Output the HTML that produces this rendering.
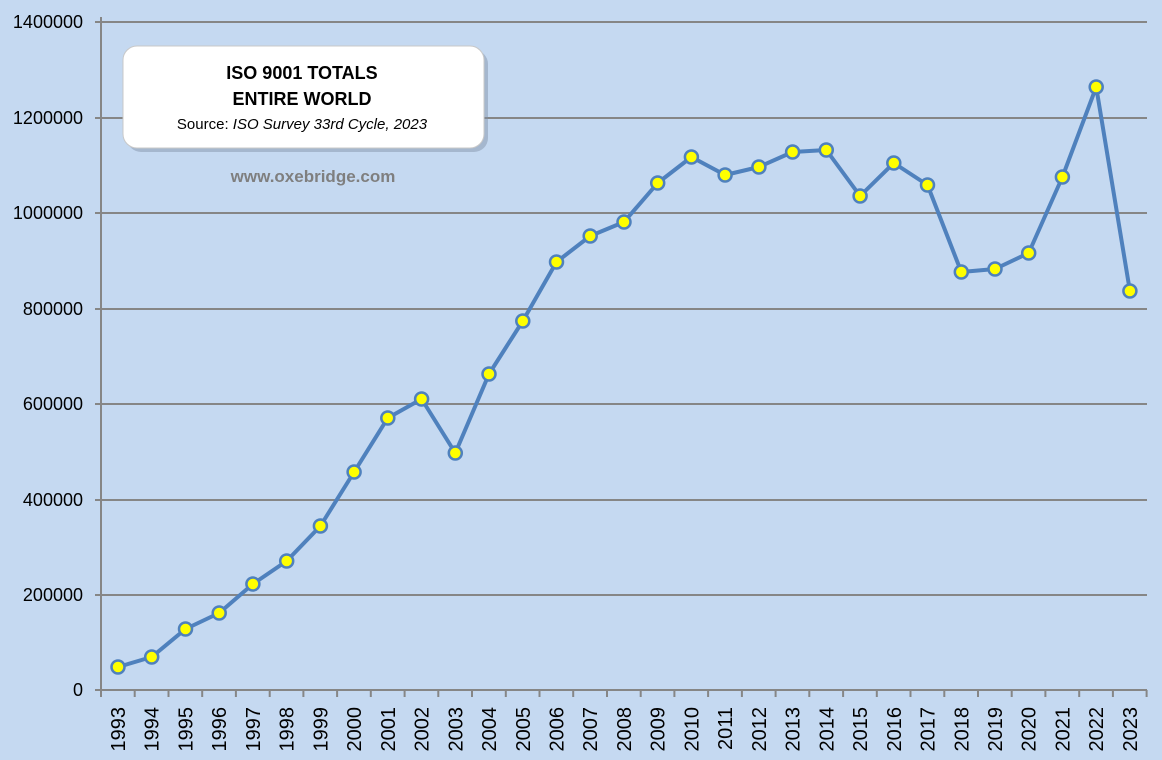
<!DOCTYPE html>
<html><head><meta charset="utf-8"><style>
html,body{margin:0;padding:0;background:#c5d9f1;}
svg{display:block;font-family:"Liberation Sans",Arial,sans-serif;}
</style></head><body>
<svg width="1162" height="760" viewBox="0 0 1162 760">
<rect width="1162" height="760" fill="#c5d9f1"/>
<g stroke="#868686" stroke-width="2">
<line x1="101" y1="22" x2="1147" y2="22"/>
<line x1="101" y1="118" x2="1147" y2="118"/>
<line x1="101" y1="213" x2="1147" y2="213"/>
<line x1="101" y1="309" x2="1147" y2="309"/>
<line x1="101" y1="404" x2="1147" y2="404"/>
<line x1="101" y1="500" x2="1147" y2="500"/>
<line x1="101" y1="595" x2="1147" y2="595"/>
<line x1="95" y1="690" x2="1147" y2="690"/>
<line x1="101" y1="17" x2="101" y2="697"/>
<line x1="95" y1="22" x2="101" y2="22"/><line x1="95" y1="118" x2="101" y2="118"/><line x1="95" y1="213" x2="101" y2="213"/><line x1="95" y1="309" x2="101" y2="309"/><line x1="95" y1="404" x2="101" y2="404"/><line x1="95" y1="500" x2="101" y2="500"/><line x1="95" y1="595" x2="101" y2="595"/>
</g>
<g stroke="#868686" stroke-width="2">
<path d="M134.7 690v7M168.5 690v7M202.2 690v7M235.9 690v7M269.7 690v7M303.4 690v7M337.1 690v7M370.8 690v7M404.6 690v7M438.3 690v7M472 690v7M505.8 690v7M539.5 690v7M573.2 690v7M607 690v7M640.7 690v7M674.4 690v7M708.1 690v7M741.9 690v7M775.6 690v7M809.3 690v7M843.1 690v7M876.8 690v7M910.5 690v7M944.3 690v7M978 690v7M1011.7 690v7M1045.4 690v7M1079.2 690v7M1112.9 690v7M1146.6 690v7"/>
</g>
<g font-size="18" fill="#000" text-anchor="end">
<text x="83" y="28">1400000</text>
<text x="83" y="124">1200000</text>
<text x="83" y="219">1000000</text>
<text x="83" y="315">800000</text>
<text x="83" y="410">600000</text>
<text x="83" y="506">400000</text>
<text x="83" y="601">200000</text>
<text x="83" y="696">0</text>
</g>
<g font-size="20" fill="#000" text-anchor="end">
<text transform="translate(125,707) rotate(-90)">1993</text>
<text transform="translate(158.7,707) rotate(-90)">1994</text>
<text transform="translate(192.5,707) rotate(-90)">1995</text>
<text transform="translate(226.2,707) rotate(-90)">1996</text>
<text transform="translate(259.9,707) rotate(-90)">1997</text>
<text transform="translate(293.7,707) rotate(-90)">1998</text>
<text transform="translate(327.4,707) rotate(-90)">1999</text>
<text transform="translate(361.1,707) rotate(-90)">2000</text>
<text transform="translate(394.8,707) rotate(-90)">2001</text>
<text transform="translate(428.6,707) rotate(-90)">2002</text>
<text transform="translate(462.3,707) rotate(-90)">2003</text>
<text transform="translate(496,707) rotate(-90)">2004</text>
<text transform="translate(529.8,707) rotate(-90)">2005</text>
<text transform="translate(563.5,707) rotate(-90)">2006</text>
<text transform="translate(597.2,707) rotate(-90)">2007</text>
<text transform="translate(631,707) rotate(-90)">2008</text>
<text transform="translate(664.7,707) rotate(-90)">2009</text>
<text transform="translate(698.4,707) rotate(-90)">2010</text>
<text transform="translate(732.1,707) rotate(-90)">2011</text>
<text transform="translate(765.9,707) rotate(-90)">2012</text>
<text transform="translate(799.6,707) rotate(-90)">2013</text>
<text transform="translate(833.3,707) rotate(-90)">2014</text>
<text transform="translate(867.1,707) rotate(-90)">2015</text>
<text transform="translate(900.8,707) rotate(-90)">2016</text>
<text transform="translate(934.5,707) rotate(-90)">2017</text>
<text transform="translate(968.3,707) rotate(-90)">2018</text>
<text transform="translate(1002,707) rotate(-90)">2019</text>
<text transform="translate(1035.7,707) rotate(-90)">2020</text>
<text transform="translate(1069.4,707) rotate(-90)">2021</text>
<text transform="translate(1103.2,707) rotate(-90)">2022</text>
<text transform="translate(1136.9,707) rotate(-90)">2023</text>
</g>
<polyline fill="none" stroke="#4f81bd" stroke-width="4" stroke-linejoin="round" points="118,667 151.7,657 185.5,629 219.2,613 252.9,584 286.7,561 320.4,526 354.1,472 387.8,418 421.6,399 455.3,453 489,374 522.8,321 556.5,262 590.2,236 624,222 657.7,183 691.4,157 725.1,175 758.9,167 792.6,152 826.3,150 860.1,196 893.8,163 927.5,185 961.3,272 995,269 1028.7,253 1062.4,177 1096.2,87 1129.9,291"/>
<g fill="#ffff00" stroke="#4f81bd" stroke-width="2.5">
<circle cx="118" cy="667" r="6.5"/><circle cx="151.7" cy="657" r="6.5"/><circle cx="185.5" cy="629" r="6.5"/><circle cx="219.2" cy="613" r="6.5"/><circle cx="252.9" cy="584" r="6.5"/><circle cx="286.7" cy="561" r="6.5"/><circle cx="320.4" cy="526" r="6.5"/><circle cx="354.1" cy="472" r="6.5"/><circle cx="387.8" cy="418" r="6.5"/><circle cx="421.6" cy="399" r="6.5"/><circle cx="455.3" cy="453" r="6.5"/><circle cx="489" cy="374" r="6.5"/><circle cx="522.8" cy="321" r="6.5"/><circle cx="556.5" cy="262" r="6.5"/><circle cx="590.2" cy="236" r="6.5"/><circle cx="624" cy="222" r="6.5"/><circle cx="657.7" cy="183" r="6.5"/><circle cx="691.4" cy="157" r="6.5"/><circle cx="725.1" cy="175" r="6.5"/><circle cx="758.9" cy="167" r="6.5"/><circle cx="792.6" cy="152" r="6.5"/><circle cx="826.3" cy="150" r="6.5"/><circle cx="860.1" cy="196" r="6.5"/><circle cx="893.8" cy="163" r="6.5"/><circle cx="927.5" cy="185" r="6.5"/><circle cx="961.3" cy="272" r="6.5"/><circle cx="995" cy="269" r="6.5"/><circle cx="1028.7" cy="253" r="6.5"/><circle cx="1062.4" cy="177" r="6.5"/><circle cx="1096.2" cy="87" r="6.5"/><circle cx="1129.9" cy="291" r="6.5"/>
</g>
<rect x="127" y="50" width="361" height="102" rx="14" fill="#7f8fa3" opacity="0.45"/>
<rect x="123" y="46" width="361" height="102" rx="14" fill="#fff" stroke="#c8c8c8" stroke-width="1"/>
<g text-anchor="middle" fill="#000">
<text x="302" y="79" font-size="18" font-weight="bold">ISO 9001 TOTALS</text>
<text x="302" y="105" font-size="18" font-weight="bold">ENTIRE WORLD</text>
<text x="302" y="129" font-size="15">Source: <tspan font-style="italic">ISO Survey 33rd Cycle, 2023</tspan></text>
</g>
<text x="313" y="182" text-anchor="middle" font-size="17" font-weight="bold" fill="#7f7f7f">www.oxebridge.com</text>
</svg>
</body></html>
